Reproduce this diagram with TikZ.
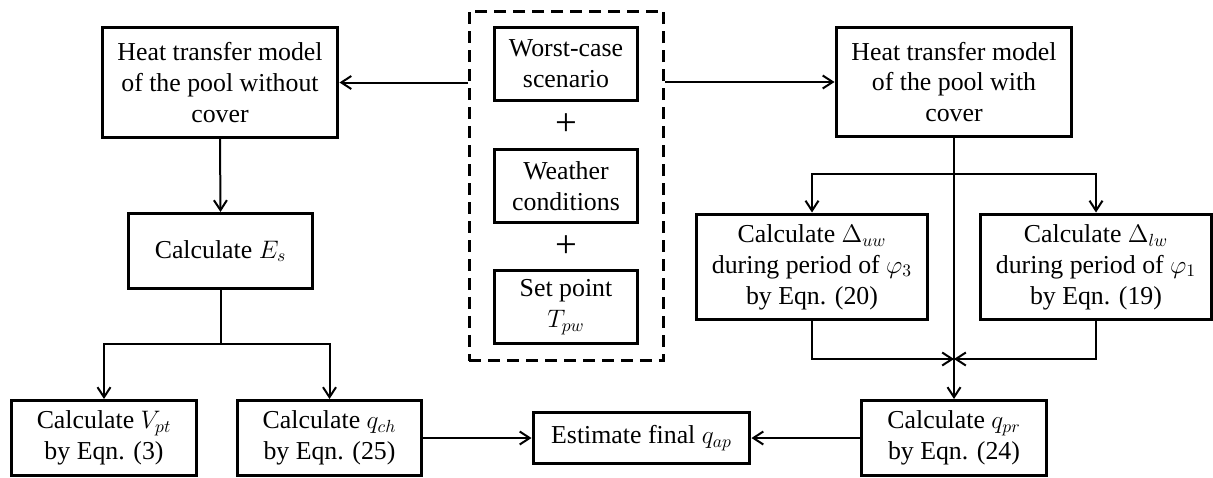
\documentclass[tikz,border=0pt]{standalone}
\usepackage{fontspec}
\setmainfont{Liberation Serif}
\usetikzlibrary{arrows.meta}
\begin{document}
\begin{tikzpicture}[x=0.02cm, y=-0.02cm,
        caja/.style={draw, line width=0.06cm, align=center, inner sep=2pt, font=\fontsize{14.7}{17.6}\selectfont},
        ancha/.style={caja, minimum width=4.72cm, minimum height=2.2cm},
        delta/.style={caja, minimum width=4.64cm, minimum height=2.12cm},
        media/.style={caja, minimum width=3.7cm, minimum height=1.5cm},
        entrada/.style={caja, minimum width=2.88cm, minimum height=1.48cm},
        suma/.style={inner sep=0pt, font=\fontsize{22}{24}\selectfont},
        marco/.style={draw, line width=0.06cm, dash pattern=on 0.24cm off 0.14cm, minimum width=3.9cm, minimum height=7cm},
        flecha/.style={-{Straight Barb[length=0.2cm, width=0.26cm, line width=0.04cm]}, line width=0.04cm},
        linea/.style={line width=0.04cm}]
        \useasboundingbox (0,0) rectangle (1213,477);
        % entradas
        \node[marco] (entradas) at (566.5,186) {};
        \node[entrada] (peor) at (566,64)  {Worst-case\\ scenario};
        \node[suma] (mas1) at (566,125) {+};
        \node[entrada] (clima) at (566,186) {Weather\\ conditions};
        \node[suma] (mas2) at (566,247) {+};
        \node[entrada] (consigna) at (566,307) {Set point\\ $T_{pw}$};
        % rama sin cubierta
        \node[ancha] (sincub) at (220,82.5) {Heat transfer model\\ of the pool without\\ cover};
        \node[media] (es) at (220.5,251) {Calculate $E_s$};
        \node[media] (vpt) at (104,438)  {Calculate $V_{pt}$\\ by Eqn. (3)};
        \node[media] (qch) at (329.5,438) {Calculate $q_{ch}$\\ by Eqn. (25)};
        % rama con cubierta
        \node[ancha] (concub) at (954,82) {Heat transfer model\\ of the pool with\\ cover};
        \node[delta] (duw) at (812,267)  {Calculate $\Delta_{uw}$\\ during period of $\varphi_3$\\ by Eqn. (20)};
        \node[delta] (dlw) at (1096,267) {Calculate $\Delta_{lw}$\\ during period of $\varphi_1$\\ by Eqn. (19)};
        \node[media] (qpr) at (954,438)  {Calculate $q_{pr}$\\ by Eqn. (24)};
        % resultado
        \node[caja, minimum width=4.34cm, minimum height=1.02cm] (final) at (641.5,438) {Estimate final $q_{ap}$};
        \coordinate (esplit) at (220.5,344);
        \coordinate (csplit) at (954,174);
        \coordinate (junta) at (954,359);
        \draw[flecha] (entradas.west |- sincub.east) -- (sincub.east);
        \draw[flecha] (entradas.east |- concub.west) -- (concub.west);
        \draw[flecha] (sincub.south) -- (es.north);
        \draw[linea] (es.south) -- (esplit);
        \draw[flecha] (esplit) -| (vpt.north);
        \draw[flecha] (esplit) -| (qch.north);
        \draw[flecha] (concub.south) -- (qpr.north);
        \draw[flecha] (csplit) -| (duw.north);
        \draw[flecha] (csplit) -| (dlw.north);
        \draw[flecha] (duw.south) |- (junta);
        \draw[flecha] (dlw.south) |- (junta);
        \draw[flecha] (qch.east) -- (final.west);
        \draw[flecha] (qpr.west) -- (final.east);
    \end{tikzpicture}
\end{document}
